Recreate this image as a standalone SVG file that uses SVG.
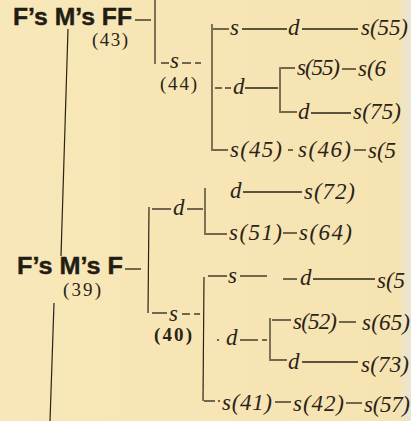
<svg xmlns="http://www.w3.org/2000/svg" width="411" height="421" viewBox="0 0 411 421">
<defs>
<linearGradient id="bg" x1="0" y1="0" x2="1" y2="0">
<stop offset="0" stop-color="#f8e7b8"/>
<stop offset="0.97" stop-color="#f6e3b2"/>
<stop offset="0.985" stop-color="#eee4c8"/>
<stop offset="1" stop-color="#ebe4cf"/>
</linearGradient>
<style>
.it{font-family:"Liberation Serif","DejaVu Serif",serif;font-style:italic;font-size:23px;fill:#2a2316}
.num{font-family:"Liberation Serif","DejaVu Serif",serif;font-size:19px;fill:#2a2316}
.numb{font-family:"Liberation Serif","DejaVu Serif",serif;font-size:19px;font-weight:bold;fill:#2a2316}
.lbl{font-family:"Liberation Sans","Arial",sans-serif;font-weight:bold;font-size:23px;fill:#221c12;stroke:#221c12;stroke-width:0.4}
.ln{stroke:#2a2316;stroke-width:1.3;fill:none}
.vl{stroke:#2a2316;stroke-width:1.2;fill:none}
</style>
</defs>
<rect width="411" height="421" fill="url(#bg)"/>

<g id="connectors">
<line class="vl" x1="155" y1="0" x2="155" y2="64"/>
<line class="vl" x1="68" y1="29" x2="61" y2="256"/>
<line class="vl" x1="212" y1="24" x2="212" y2="151"/>
<line class="vl" x1="280" y1="67" x2="280" y2="113"/>
<line class="vl" x1="149" y1="207" x2="148" y2="313"/>
<line class="vl" x1="205" y1="188" x2="205" y2="235"/>
<line class="vl" x1="204" y1="277" x2="203" y2="401"/>
<line class="vl" x1="270" y1="318" x2="270" y2="361"/>
<line class="vl" x1="54" y1="303" x2="50" y2="421"/>
<line class="ln" x1="135" y1="20" x2="151" y2="20"/>
<line class="ln" x1="125" y1="269" x2="141" y2="269"/>
<line class="ln" x1="161" y1="63" x2="169" y2="63"/>
<line class="ln" x1="182" y1="63" x2="191" y2="63"/>
<line class="ln" x1="195" y1="63" x2="201" y2="63"/>
<line class="ln" x1="213" y1="29" x2="229" y2="29"/>
<line class="ln" x1="242" y1="29" x2="287" y2="29"/>
<line class="ln" x1="302" y1="29" x2="358" y2="29"/>
<line class="ln" x1="281" y1="68" x2="295" y2="68"/>
<line class="ln" x1="342" y1="69" x2="356" y2="69"/>
<line class="ln" x1="215" y1="88" x2="222" y2="88"/>
<line class="ln" x1="225" y1="88" x2="231" y2="88"/>
<line class="ln" x1="245" y1="88" x2="278" y2="88"/>
<line class="ln" x1="281" y1="112" x2="297" y2="112"/>
<line class="ln" x1="311" y1="113" x2="351" y2="113"/>
<line class="ln" x1="213" y1="150" x2="228" y2="150"/>
<line class="ln" x1="288" y1="150" x2="293" y2="150"/>
<line class="ln" x1="354" y1="150" x2="366" y2="150"/>
<line class="ln" x1="152" y1="209" x2="171" y2="209"/>
<line class="ln" x1="187" y1="209" x2="203" y2="209"/>
<line class="ln" x1="243" y1="192" x2="302" y2="192"/>
<line class="ln" x1="206" y1="234" x2="227" y2="234"/>
<line class="ln" x1="283" y1="233" x2="297" y2="233"/>
<line class="ln" x1="152" y1="313" x2="167" y2="313"/>
<line class="ln" x1="182" y1="314" x2="190" y2="314"/>
<line class="ln" x1="194" y1="314" x2="200" y2="314"/>
<line class="ln" x1="208" y1="276" x2="227" y2="276"/>
<line class="ln" x1="240" y1="276" x2="267" y2="276"/>
<line class="ln" x1="283" y1="279" x2="297" y2="279"/>
<line class="ln" x1="313" y1="279" x2="375" y2="279"/>
<line class="ln" x1="272" y1="320" x2="291" y2="320"/>
<line class="ln" x1="339" y1="322" x2="356" y2="322"/>
<circle cx="218" cy="340" r="0.9" fill="#2a2316"/>
<line class="ln" x1="240" y1="340" x2="258" y2="340"/>
<line class="ln" x1="262" y1="340" x2="267" y2="340"/>
<line class="ln" x1="271" y1="360" x2="287" y2="360"/>
<line class="ln" x1="302" y1="362" x2="358" y2="362"/>
<line class="ln" x1="204" y1="401" x2="215" y2="401"/>
<circle cx="219" cy="401" r="0.9" fill="#2a2316"/>
<line class="ln" x1="275" y1="402" x2="291" y2="402"/>
<line class="ln" x1="346" y1="403" x2="362" y2="403"/>
</g>

<g id="n-fmff"><text class="lbl" x="13" y="25" textLength="119" lengthAdjust="spacingAndGlyphs">F’s M’s FF</text><text class="num" x="92" y="46" textLength="36">(43)</text></g>
<g id="n-s44"><text class="it" x="170" y="68">s</text><text class="num" x="160" y="90" textLength="37">(44)</text></g>
<g id="n-a"><text class="it" x="230" y="35">s</text><text class="it" x="288" y="35">d</text><text class="it" x="361" y="35" textLength="47">s(55)</text></g>
<g id="n-c"><text class="it" x="233" y="94">d</text></g>
<g id="n-b"><text class="it" x="297" y="75" textLength="43">s(55)</text><text class="it" x="358" y="76">s(6</text></g>
<g id="n-d"><text class="it" x="298" y="119">d</text><text class="it" x="353" y="119" textLength="48">s(75)</text></g>
<g id="n-e"><text class="it" x="230" y="157" textLength="52">s(45)</text><text class="it" x="298" y="157" textLength="53">s(46)</text><text class="it" x="368" y="158">s(5</text></g>
<g id="n-fmf"><text class="lbl" x="17" y="274" textLength="106" lengthAdjust="spacingAndGlyphs">F’s M’s F</text><text class="num" x="63" y="296" textLength="38">(39)</text></g>
<g id="n-d2"><text class="it" x="173" y="215">d</text></g>
<g id="n-f"><text class="it" x="230" y="198">d</text><text class="it" x="304" y="199" textLength="51">s(72)</text></g>
<g id="n-g"><text class="it" x="229" y="240" textLength="53">s(51)</text><text class="it" x="299" y="240" textLength="53">s(64)</text></g>
<g id="n-s40"><text class="it" x="169" y="321">s</text><text class="numb" x="154" y="341" textLength="38">(40)</text></g>
<g id="n-h"><text class="it" x="228" y="283">s</text><text class="it" x="300" y="285">d</text><text class="it" x="377" y="288">s(5</text></g>
<g id="n-j"><text class="it" x="226" y="345">d</text></g>
<g id="n-i"><text class="it" x="293" y="329" textLength="44">s(52)</text><text class="it" x="362" y="330" textLength="48">s(65)</text></g>
<g id="n-k"><text class="it" x="288" y="369">d</text><text class="it" x="361" y="372" textLength="48">s(73)</text></g>
<g id="n-l"><text class="it" x="222" y="410" textLength="50">s(41)</text><text class="it" x="293" y="411" textLength="51">s(42)</text><text class="it" x="364" y="412" textLength="46">s(57)</text></g>
</svg>
